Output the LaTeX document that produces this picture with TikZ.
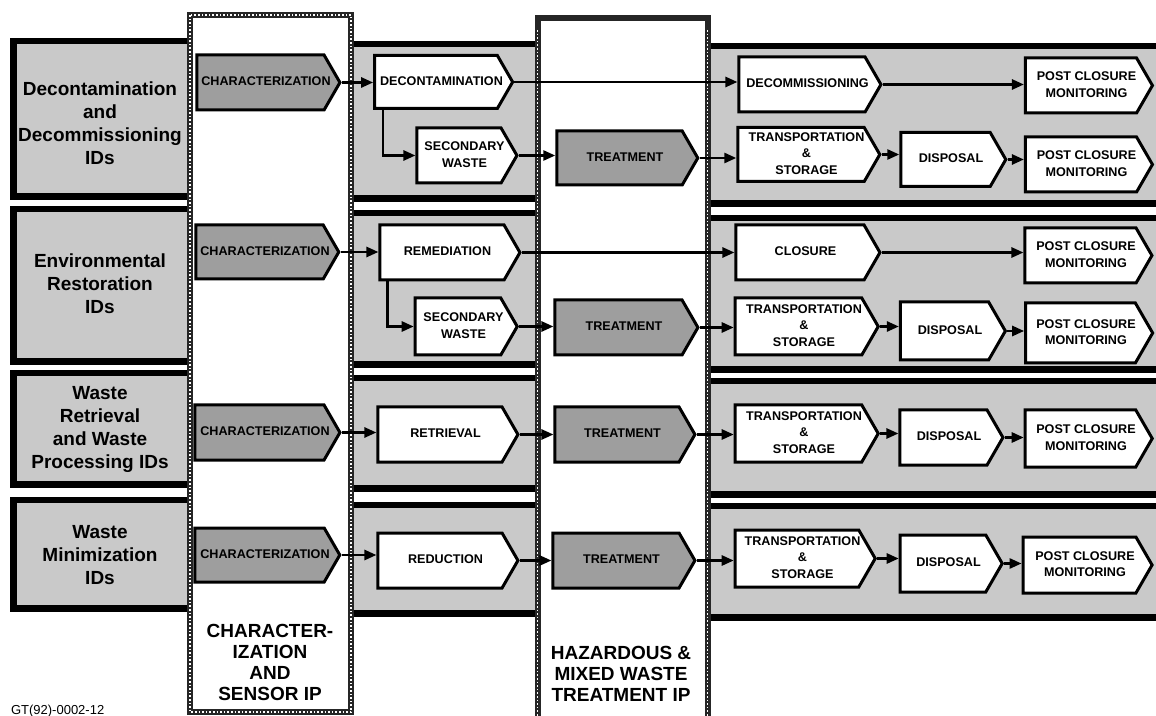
\documentclass[tikz,border=0pt]{standalone}
\usepackage{fontspec}
\setmainfont{Liberation Sans}
\usetikzlibrary{shapes.symbols,arrows.meta}
\definecolor{bandgray}{gray}{0.79}
\definecolor{boxgray}{gray}{0.62}
\tikzset{
  lbl/.style={font=\fontsize{6.3}{8.3}\selectfont\bfseries},
  pbox/.style={signal, signal to=east, signal pointer angle=120, draw=black, line width=1.5pt, fill=white, inner sep=0pt, xshift=-4pt, lbl},
  gbox/.style={pbox, fill=boxgray},
  conn/.style={line width=1.3pt, -{Triangle[length=6pt,width=5pt]}},
  rowlbl/.style={font=\fontsize{9.5}{11.5}\selectfont\bfseries, align=center},
  collbl/.style={font=\fontsize{9.5}{10.5}\selectfont\bfseries, align=center},
  colframe/.style={draw=black!85, line width=3pt, fill=white},
  coldots/.style={draw=white, line width=0.8pt, dash pattern=on 0.8pt off 1pt},
}
% text of an arrow box, centred over the whole shape (pointer included); box size set by minimum width/height
\newcommand\tx[1]{\makebox[0pt]{\hspace*{5.5pt}\begin{tabular}{@{}c@{}}#1\end{tabular}}}
\newcommand\bandseg[4]{\fill[black] (#1,#2) rectangle (#3,#4); \fill[bandgray] (#1,#2+6) rectangle (#3,#4-7);}
\newcommand\bandlead[4]{\fill[black] (#1,#2) rectangle (#3,#4); \fill[bandgray] (#1+7,#2+6) rectangle (#3,#4-7);}
\newcommand\conn[2]{\draw[conn] (#1.east) -- (#1.east -| #2.west);}
\begin{document}
\begin{tikzpicture}[x=0.5pt,y=-0.5pt]
\useasboundingbox (0,0) rectangle (1156,716);
\clip (0,0) rectangle (1156,716);
% row bands
\bandlead{10}{38}{190}{200} \bandseg{351}{41}{536}{202} \bandseg{707}{43}{1160}{207}
\bandlead{10}{206}{190}{365} \bandseg{351}{210}{536}{368} \bandseg{707}{215}{1160}{373}
\bandlead{10}{370}{190}{488} \bandseg{351}{375}{536}{492} \bandseg{707}{378}{1160}{498}
\bandlead{10}{497}{190}{612} \bandseg{351}{502}{536}{617} \bandseg{707}{503}{1160}{621}
% columns
\path[colframe] (190,15) rectangle (351,712);
\path[coldots] (190,15) rectangle (351,712);
\path[colframe] (537.5,18.5) rectangle (707.5,730);
\draw[coldots] (537.5,30) -- (537.5,730) (707.5,30) -- (707.5,730);
% row labels
\node[rowlbl] (lab1) at (100,123) {Decontamination\\and\\Decommissioning\\IDs};
\node[rowlbl] (lab2) at (100,284) {Environmental\\Restoration\\IDs};
\node[rowlbl] (lab3) at (100,429) {Waste\\Retrieval\\and Waste\\Processing IDs};
\node[rowlbl] (lab4) at (100,555) {Waste\\Minimization\\IDs};
% row 1
\node[gbox, minimum width=71.5pt, minimum height=27.5pt] (ch1) at (268.5,82.5) {\tx{CHARACTERIZATION}};
\node[pbox, minimum width=69pt, minimum height=26.5pt] (dec) at (444,82) {\tx{DECONTAMINATION}};
\node[pbox, minimum width=50pt, minimum height=27.5pt] (sw1) at (467,155.5) {\tx{SECONDARY\\WASTE}};
\node[gbox, minimum width=70.5pt, minimum height=27pt] (tr1) at (627.5,158) {\tx{TREATMENT}};
\node[pbox, minimum width=71pt, minimum height=27.5pt] (dcm) at (810,84.5) {\tx{DECOMMISSIONING}};
\node[pbox, minimum width=63.5pt, minimum height=27.5pt] (pc1a) at (1089,85.5) {\tx{POST CLOSURE\\MONITORING}};
\node[pbox, minimum width=71pt, minimum height=27pt] (ts1) at (809,154.5) {\tx{TRANSPORTATION\\\&\\STORAGE}};
\node[pbox, minimum width=52.5pt, minimum height=27pt] (ds1) at (953.5,159.5) {\tx{DISPOSAL}};
\node[pbox, minimum width=63.5pt, minimum height=27.5pt] (pc1b) at (1089,164.5) {\tx{POST CLOSURE\\MONITORING}};
% row 2
\node[gbox, minimum width=71.5pt, minimum height=27pt] (ch2) at (267.5,252) {\tx{CHARACTERIZATION}};
\node[pbox, minimum width=70pt, minimum height=27.5pt] (rem) at (450,252.5) {\tx{REMEDIATION}};
\node[pbox, minimum width=51pt, minimum height=28.5pt] (sw2) at (466,326.5) {\tx{SECONDARY\\WASTE}};
\node[gbox, minimum width=71.5pt, minimum height=27.5pt] (tr2) at (626.5,327.5) {\tx{TREATMENT}};
\node[pbox, minimum width=72pt, minimum height=27.5pt] (clo) at (808,252.5) {\tx{CLOSURE}};
\node[pbox, minimum width=63.5pt, minimum height=27.5pt] (pc2a) at (1088.5,255.5) {\tx{POST CLOSURE\\MONITORING}};
\node[pbox, minimum width=71.5pt, minimum height=28.5pt] (ts2) at (806.5,326.5) {\tx{TRANSPORTATION\\\&\\STORAGE}};
\node[pbox, minimum width=52.5pt, minimum height=29pt] (ds2) at (952.5,331) {\tx{DISPOSAL}};
\node[pbox, minimum width=63.5pt, minimum height=30pt] (pc2b) at (1088.5,333) {\tx{POST CLOSURE\\MONITORING}};
% row 3
\node[gbox, minimum width=72.5pt, minimum height=27.5pt] (ch3) at (267.5,432.5) {\tx{CHARACTERIZATION}};
\node[pbox, minimum width=70pt, minimum height=27.5pt] (ret) at (448,434.5) {\tx{RETRIEVAL}};
\node[gbox, minimum width=70pt, minimum height=27.5pt] (tr3) at (625,434.5) {\tx{TREATMENT}};
\node[pbox, minimum width=71.5pt, minimum height=28.5pt] (ts3) at (806.5,433.5) {\tx{TRANSPORTATION\\\&\\STORAGE}};
\node[pbox, minimum width=51.5pt, minimum height=27.5pt] (ds3) at (951.5,437.5) {\tx{DISPOSAL}};
\node[pbox, minimum width=63.5pt, minimum height=28.5pt] (pc3) at (1088.5,438.5) {\tx{POST CLOSURE\\MONITORING}};
% row 4
\node[gbox, minimum width=72.5pt, minimum height=27pt] (ch4) at (267.5,555) {\tx{CHARACTERIZATION}};
\node[pbox, minimum width=70pt, minimum height=27.5pt] (red) at (448,560.5) {\tx{REDUCTION}};
\node[gbox, minimum width=71pt, minimum height=27.5pt] (tr4) at (624,560.5) {\tx{TREATMENT}};
\node[pbox, minimum width=70pt, minimum height=28.5pt] (ts4) at (805,558.5) {\tx{TRANSPORTATION\\\&\\STORAGE}};
\node[pbox, minimum width=51pt, minimum height=28.5pt] (ds4) at (951,563.5) {\tx{DISPOSAL}};
\node[pbox, minimum width=64.5pt, minimum height=28pt] (pc4) at (1087.5,565) {\tx{POST CLOSURE\\MONITORING}};
% connectors
\conn{ch1}{dec} \conn{dec}{dcm} \conn{dcm}{pc1a}
\draw[conn] ([xshift=5pt]dec.south west) |- (sw1.west);
\conn{sw1}{tr1} \conn{tr1}{ts1} \conn{ts1}{ds1} \conn{ds1}{pc1b}
\conn{ch2}{rem} \conn{rem}{clo} \conn{clo}{pc2a}
\draw[conn] ([xshift=4.5pt]rem.south west) |- (sw2.west);
\conn{sw2}{tr2} \conn{tr2}{ts2} \conn{ts2}{ds2} \conn{ds2}{pc2b}
\conn{ch3}{ret} \conn{ret}{tr3} \conn{tr3}{ts3} \conn{ts3}{ds3} \conn{ds3}{pc3}
\conn{ch4}{red} \conn{red}{tr4} \conn{tr4}{ts4} \conn{ts4}{ds4} \conn{ds4}{pc4}
% column labels
\node[collbl] (col1) at (270,662) {CHARACTER-\\IZATION\\AND\\SENSOR IP};
\node[collbl] (col2) at (621,674) {HAZARDOUS \&\\MIXED WASTE\\TREATMENT IP};
\node[anchor=west, font=\fontsize{6.5}{7}\selectfont] (gt) at (4,711) {GT(92)-0002-12};
\end{tikzpicture}
\end{document}
